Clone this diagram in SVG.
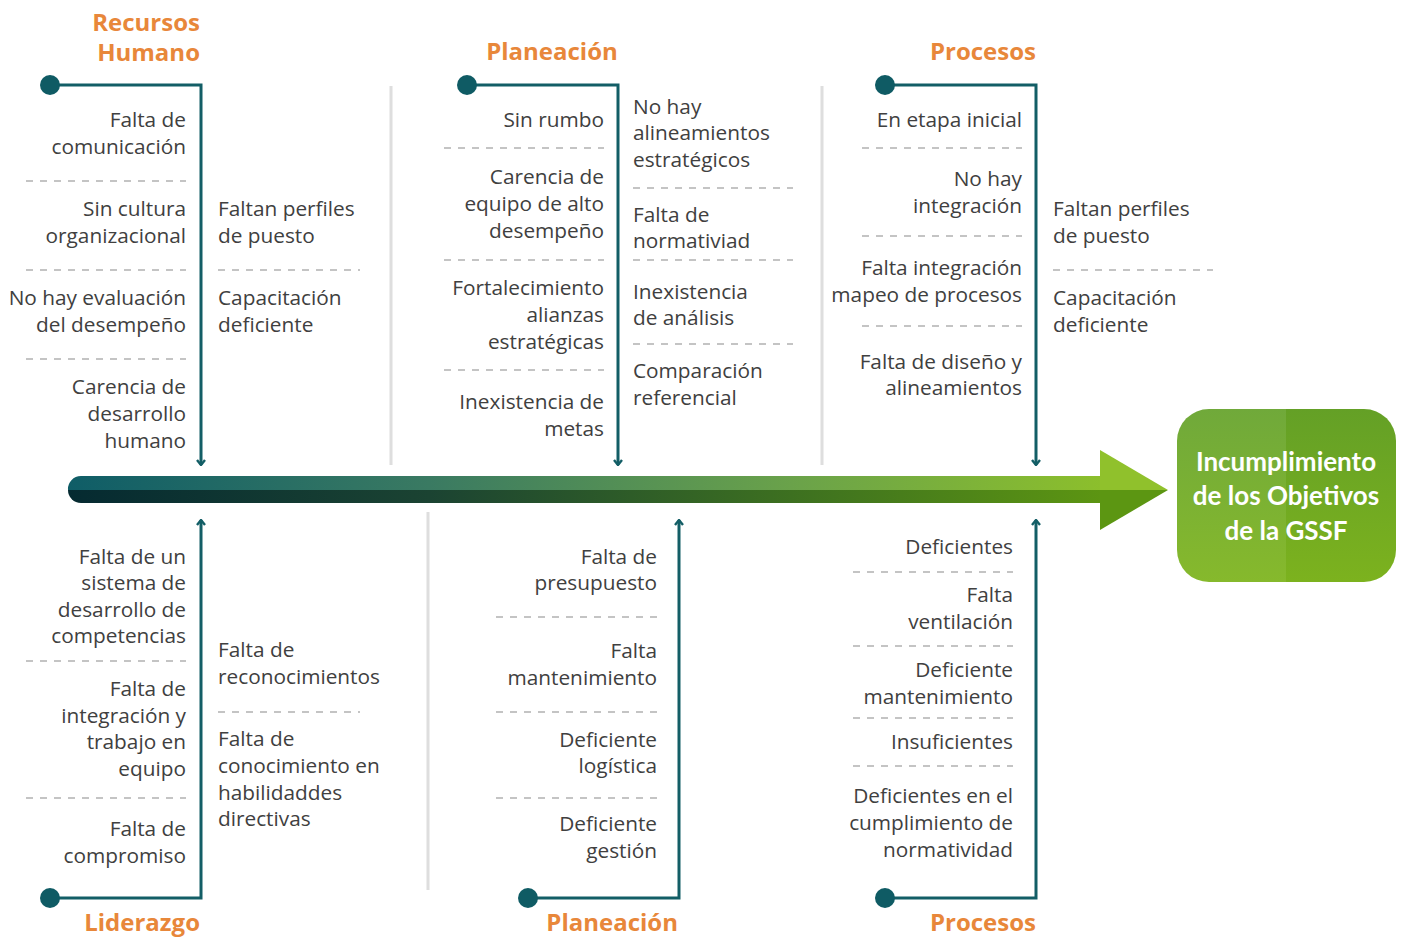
<svg xmlns="http://www.w3.org/2000/svg" width="1402" height="937" viewBox="0 0 1402 937">
<defs>
<style>
.t{font-family:"Open Sans","Liberation Sans",sans-serif;font-size:20.8px;fill:#404040}
.r{text-anchor:end}
.h{font-family:"Open Sans","Liberation Sans",sans-serif;font-size:24px;font-weight:bold;fill:#e8873a}
.d{stroke:#c4c4c4;stroke-width:2;stroke-dasharray:7 7;fill:none}
.s{stroke:#dedede;stroke-width:3;fill:none}
.b{stroke:#135e66;stroke-width:3;fill:none}
.dot{fill:#0f5b64}
.e{font-family:"Lato","Open Sans",sans-serif;font-size:26px;font-weight:bold;fill:#ffffff;text-anchor:middle}
</style>
<marker id="ah" viewBox="0 0 10 10" refX="9" refY="5" markerWidth="10" markerHeight="10" markerUnits="userSpaceOnUse" orient="auto">
<polyline points="4,1 9,5 4,9" fill="none" stroke="#135e66" stroke-width="2.4"/>
</marker>
<linearGradient id="gTop" x1="0" y1="0" x2="1" y2="0">
<stop offset="0" stop-color="#0f5d67"/>
<stop offset="0.35" stop-color="#3a7a62"/>
<stop offset="0.7" stop-color="#6aa24a"/>
<stop offset="1" stop-color="#8cbf2c"/>
</linearGradient>
<linearGradient id="gBot" x1="0" y1="0" x2="1" y2="0">
<stop offset="0" stop-color="#052a31"/>
<stop offset="0.35" stop-color="#1b4332"/>
<stop offset="0.7" stop-color="#3d7020"/>
<stop offset="1" stop-color="#5c9512"/>
</linearGradient>
<linearGradient id="gBox" x1="0" y1="0" x2="0" y2="1">
<stop offset="0" stop-color="#70a93a"/>
<stop offset="1" stop-color="#86b92c"/>
</linearGradient>
<linearGradient id="gBox2" x1="0" y1="0" x2="0" y2="1">
<stop offset="0" stop-color="#64a026"/>
<stop offset="1" stop-color="#7cb21e"/>
</linearGradient>
<clipPath id="boxClip"><rect x="1177" y="409" width="219" height="173" rx="32"/></clipPath>
</defs>

<g id="separators">
<line class="s" x1="391" y1="86" x2="391" y2="465"/>
<line class="s" x1="822" y1="86" x2="822" y2="465"/>
<line class="s" x1="428" y1="512" x2="428" y2="890"/>
</g>

<g id="spine">
<path d="M81,476 H1101 V490 H68 A13,13 0 0 1 81,476 Z" fill="url(#gTop)"/>
<path d="M68,490 H1101 V503 H81 A13,13 0 0 1 68,490 Z" fill="url(#gBot)"/>
<polygon points="1100,450 1168,490 1100,490" fill="#90c12c"/>
<polygon points="1100,490 1168,490 1100,530" fill="#5c9612"/>
</g>

<g id="effect">
<g clip-path="url(#boxClip)">
<rect x="1177" y="409" width="110" height="173" fill="url(#gBox)"/>
<rect x="1286" y="409" width="110" height="173" fill="url(#gBox2)"/>
</g>
<text class="e" x="1286" y="471">Incumplimiento</text>
<text class="e" x="1286" y="505">de los Objetivos</text>
<text class="e" x="1286" y="540">de la GSSF</text>
</g>

<g id="connectors">
<polyline class="b" points="50,85 201,85 201,465" marker-end="url(#ah)"/>
<polyline class="b" points="467,85 618,85 618,465" marker-end="url(#ah)"/>
<polyline class="b" points="885,85 1036,85 1036,465" marker-end="url(#ah)"/>
<polyline class="b" points="50,898 201,898 201,520" marker-end="url(#ah)"/>
<polyline class="b" points="528,898 679,898 679,520" marker-end="url(#ah)"/>
<polyline class="b" points="885,898 1036,898 1036,520" marker-end="url(#ah)"/>
<circle class="dot" cx="50" cy="85" r="10"/>
<circle class="dot" cx="467" cy="85" r="10"/>
<circle class="dot" cx="885" cy="85" r="10"/>
<circle class="dot" cx="50" cy="898" r="10"/>
<circle class="dot" cx="528" cy="898" r="10"/>
<circle class="dot" cx="885" cy="898" r="10"/>
</g>

<g id="recursos-humano">
<text class="h r" x="200" y="31">Recursos</text>
<text class="h r" x="200" y="61">Humano</text>
<text class="t r" x="186" y="127">Falta de</text>
<text class="t r" x="186" y="154">comunicación</text>
<line class="d" x1="26" y1="181" x2="186" y2="181"/>
<text class="t r" x="186" y="216">Sin cultura</text>
<text class="t r" x="186" y="243">organizacional</text>
<line class="d" x1="26" y1="270" x2="186" y2="270"/>
<text class="t r" x="186" y="305">No hay evaluación</text>
<text class="t r" x="186" y="332">del desempeño</text>
<line class="d" x1="26" y1="359" x2="186" y2="359"/>
<text class="t r" x="186" y="394">Carencia de</text>
<text class="t r" x="186" y="421">desarrollo</text>
<text class="t r" x="186" y="448">humano</text>
<text class="t" x="218" y="216">Faltan perfiles</text>
<text class="t" x="218" y="243">de puesto</text>
<line class="d" x1="218" y1="270" x2="360" y2="270"/>
<text class="t" x="218" y="305">Capacitación</text>
<text class="t" x="218" y="332">deficiente</text>
</g>

<g id="planeacion-top">
<text class="h" x="552" y="60" text-anchor="middle">Planeación</text>
<text class="t r" x="604" y="127">Sin rumbo</text>
<line class="d" x1="444" y1="148" x2="604" y2="148"/>
<text class="t r" x="604" y="184">Carencia de</text>
<text class="t r" x="604" y="211">equipo de alto</text>
<text class="t r" x="604" y="238">desempeño</text>
<line class="d" x1="444" y1="260" x2="604" y2="260"/>
<text class="t r" x="604" y="295">Fortalecimiento</text>
<text class="t r" x="604" y="322">alianzas</text>
<text class="t r" x="604" y="349">estratégicas</text>
<line class="d" x1="444" y1="370" x2="604" y2="370"/>
<text class="t r" x="604" y="409">Inexistencia de</text>
<text class="t r" x="604" y="436">metas</text>
<text class="t" x="633" y="114">No hay</text>
<text class="t" x="633" y="140">alineamientos</text>
<text class="t" x="633" y="167">estratégicos</text>
<line class="d" x1="633" y1="188" x2="793" y2="188"/>
<text class="t" x="633" y="222">Falta de</text>
<text class="t" x="633" y="248">normativiad</text>
<line class="d" x1="633" y1="260" x2="793" y2="260"/>
<text class="t" x="633" y="299">Inexistencia</text>
<text class="t" x="633" y="325">de análisis</text>
<line class="d" x1="633" y1="344" x2="793" y2="344"/>
<text class="t" x="633" y="378">Comparación</text>
<text class="t" x="633" y="405">referencial</text>
</g>

<g id="procesos-top">
<text class="h r" x="1036" y="60">Procesos</text>
<text class="t r" x="1022" y="127">En etapa inicial</text>
<line class="d" x1="862" y1="148" x2="1022" y2="148"/>
<text class="t r" x="1022" y="186">No hay</text>
<text class="t r" x="1022" y="213">integración</text>
<line class="d" x1="862" y1="236" x2="1022" y2="236"/>
<text class="t r" x="1022" y="275">Falta integración</text>
<text class="t r" x="1022" y="302">mapeo de procesos</text>
<line class="d" x1="862" y1="326" x2="1022" y2="326"/>
<text class="t r" x="1022" y="369">Falta de diseño y</text>
<text class="t r" x="1022" y="395">alineamientos</text>
<text class="t" x="1053" y="216">Faltan perfiles</text>
<text class="t" x="1053" y="243">de puesto</text>
<line class="d" x1="1053" y1="270" x2="1213" y2="270"/>
<text class="t" x="1053" y="305">Capacitación</text>
<text class="t" x="1053" y="332">deficiente</text>
</g>

<g id="liderazgo">
<text class="h r" x="200" y="931">Liderazgo</text>
<text class="t r" x="186" y="564">Falta de un</text>
<text class="t r" x="186" y="590">sistema de</text>
<text class="t r" x="186" y="617">desarrollo de</text>
<text class="t r" x="186" y="643">competencias</text>
<line class="d" x1="26" y1="661" x2="186" y2="661"/>
<text class="t r" x="186" y="696">Falta de</text>
<text class="t r" x="186" y="723">integración y</text>
<text class="t r" x="186" y="749">trabajo en</text>
<text class="t r" x="186" y="776">equipo</text>
<line class="d" x1="26" y1="798" x2="186" y2="798"/>
<text class="t r" x="186" y="836">Falta de</text>
<text class="t r" x="186" y="863">compromiso</text>
<text class="t" x="218" y="657">Falta de</text>
<text class="t" x="218" y="684">reconocimientos</text>
<line class="d" x1="218" y1="712" x2="360" y2="712"/>
<text class="t" x="218" y="746">Falta de</text>
<text class="t" x="218" y="773">conocimiento en</text>
<text class="t" x="218" y="800">habilidaddes</text>
<text class="t" x="218" y="826">directivas</text>
</g>

<g id="planeacion-bottom">
<text class="h r" x="678" y="931">Planeación</text>
<text class="t r" x="657" y="564">Falta de</text>
<text class="t r" x="657" y="590">presupuesto</text>
<line class="d" x1="496" y1="617" x2="657" y2="617"/>
<text class="t r" x="657" y="658">Falta</text>
<text class="t r" x="657" y="685">mantenimiento</text>
<line class="d" x1="496" y1="712" x2="657" y2="712"/>
<text class="t r" x="657" y="747">Deficiente</text>
<text class="t r" x="657" y="773">logística</text>
<line class="d" x1="496" y1="798" x2="657" y2="798"/>
<text class="t r" x="657" y="831">Deficiente</text>
<text class="t r" x="657" y="858">gestión</text>
</g>

<g id="procesos-bottom">
<text class="h r" x="1036" y="931">Procesos</text>
<text class="t r" x="1013" y="554">Deficientes</text>
<line class="d" x1="853" y1="572" x2="1013" y2="572"/>
<text class="t r" x="1013" y="602">Falta</text>
<text class="t r" x="1013" y="629">ventilación</text>
<line class="d" x1="853" y1="646" x2="1013" y2="646"/>
<text class="t r" x="1013" y="677">Deficiente</text>
<text class="t r" x="1013" y="704">mantenimiento</text>
<line class="d" x1="853" y1="718" x2="1013" y2="718"/>
<text class="t r" x="1013" y="749">Insuficientes</text>
<line class="d" x1="853" y1="766" x2="1013" y2="766"/>
<text class="t r" x="1013" y="803">Deficientes en el</text>
<text class="t r" x="1013" y="830">cumplimiento de</text>
<text class="t r" x="1013" y="857">normatividad</text>
</g>
</svg>
